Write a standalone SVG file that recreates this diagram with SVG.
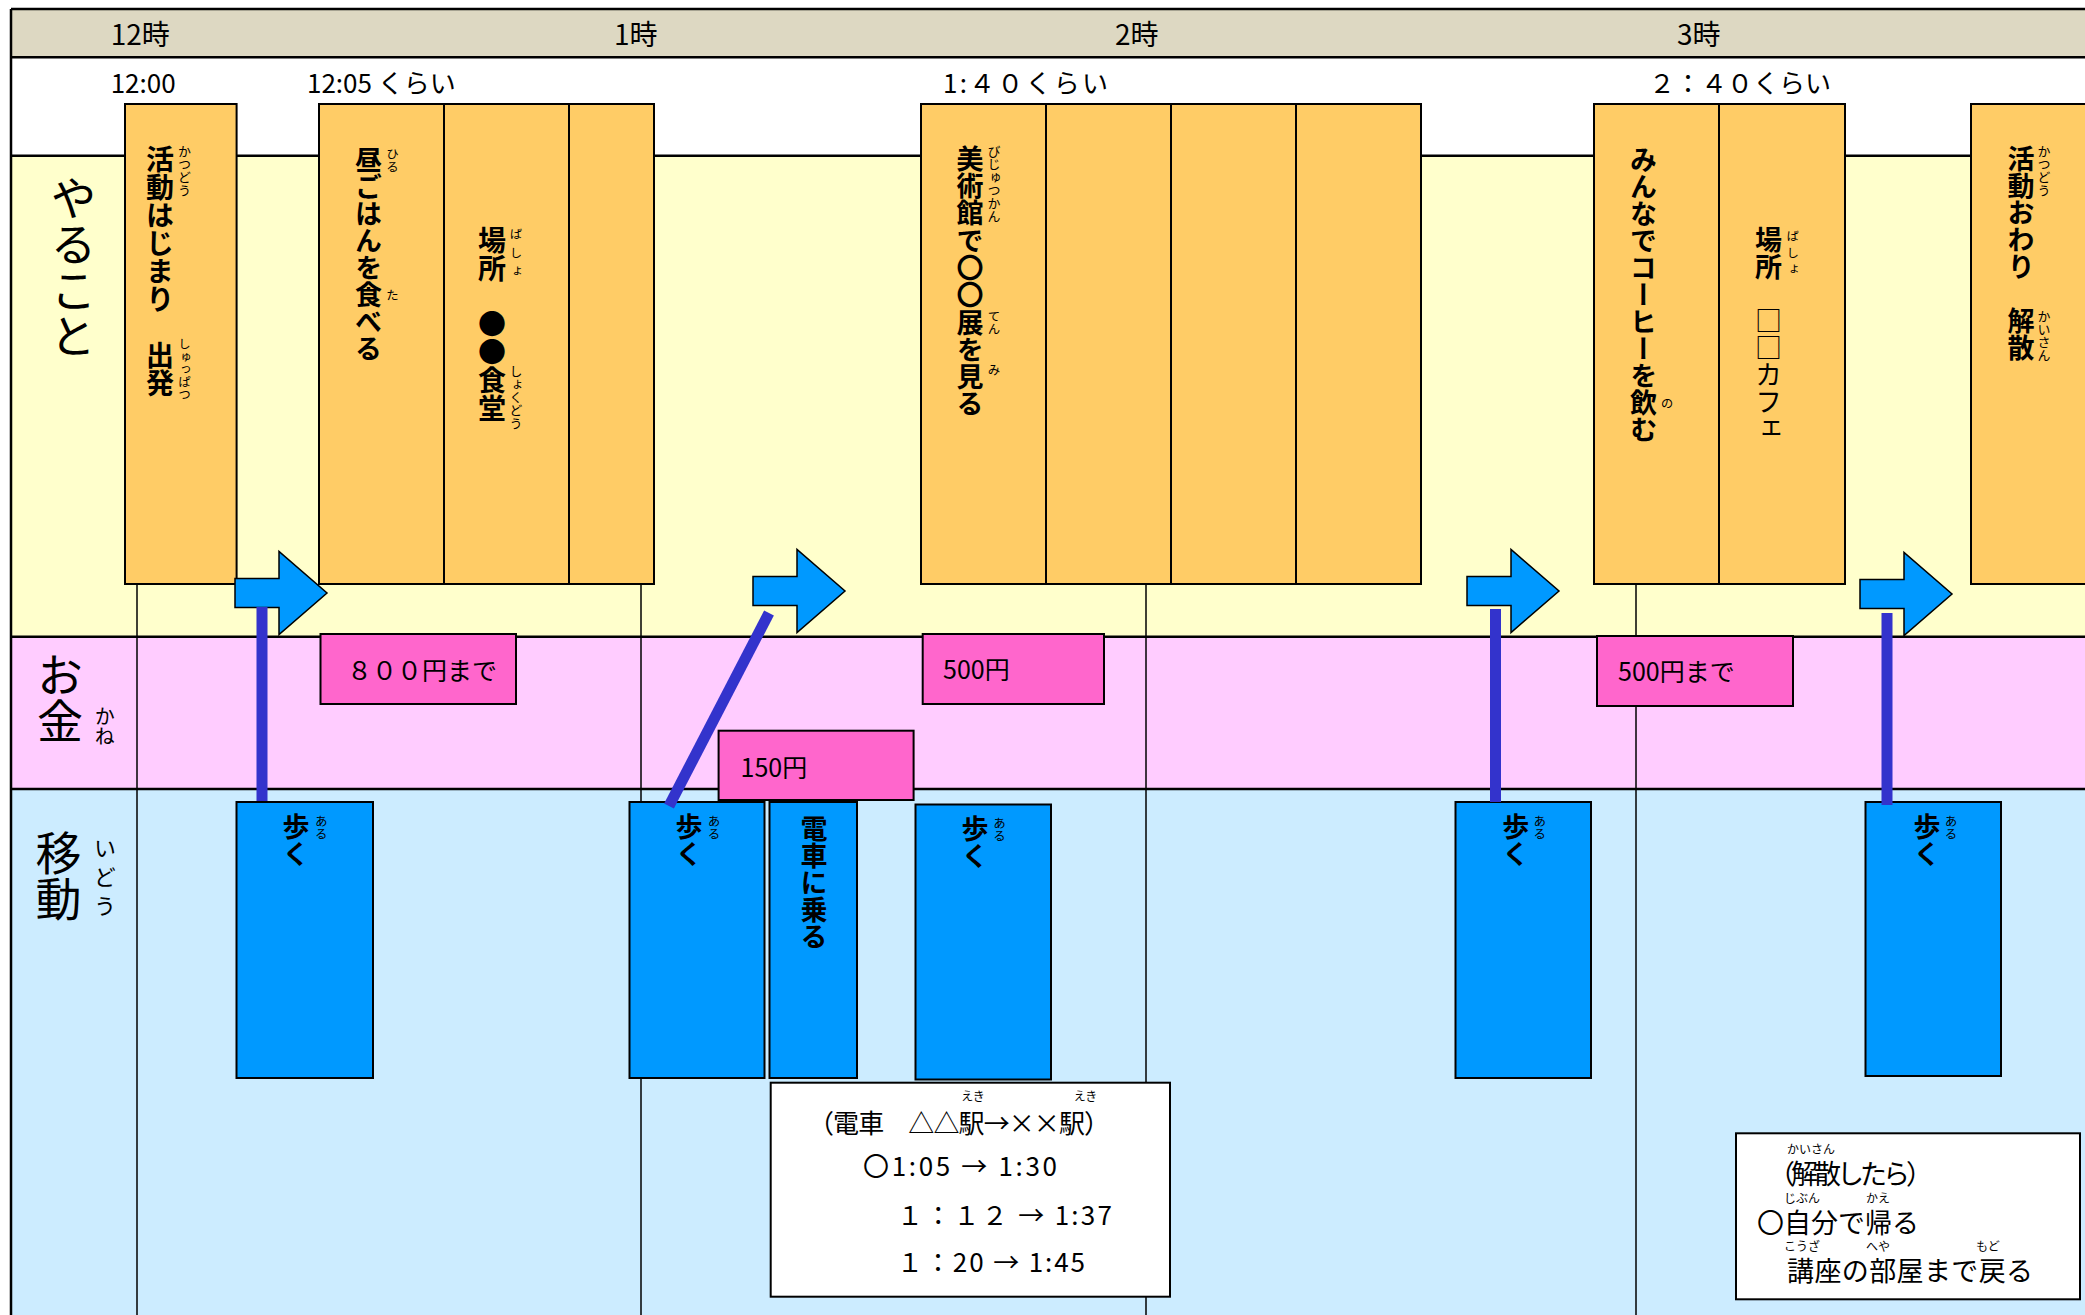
<svg xmlns="http://www.w3.org/2000/svg" width="2085" height="1315" viewBox="0 0 2085 1315">
<style>
.jp{font-family:"Noto Sans CJK JP","Noto Sans CJK SC",sans-serif;fill:#000;}
.vt{writing-mode:vertical-rl;font-family:"Noto Sans CJK JP","Noto Sans CJK SC",sans-serif;fill:#000;}
.big{font-size:46px;font-weight:400;}
.lbl{font-size:27px;font-weight:700;}
.rb{font-size:12.5px;font-weight:400;}
.hd{font-size:28px;}
.tm{font-size:26px;}
.money{font-size:25px;}
.info{font-size:26px;}
.ob{fill:#FFCC66;stroke:#000;stroke-width:2;}
.pb{fill:#FF66CC;stroke:#000;stroke-width:2;}
.bb{fill:#0099FF;stroke:#000;stroke-width:2;}
.wb{fill:#FFFFFF;stroke:#000;stroke-width:2;}
.row{stroke:#000;stroke-width:2.5;fill:none;}
.grid{stroke:#000;stroke-width:1.5;fill:none;}
.link{stroke:#3333CC;stroke-width:11;fill:none;}
</style>
<defs>
<path id="arr" d="M0,-14.5 H44 V-41.5 L92,0 L44,41.5 V14.5 H0 Z" fill="#0099FF" stroke="#000" stroke-width="1.5"/>
</defs>

<g id="table">
<rect x="11" y="9" width="2080" height="48.3" fill="#DDD8C2"/>
<rect x="11" y="57.3" width="2080" height="98.4" fill="#FFFFFF"/>
<rect x="11" y="155.7" width="2080" height="481" fill="#FFFFCC"/>
<rect x="11" y="636.7" width="2080" height="152.3" fill="#FFCCFF"/>
<rect x="11" y="789" width="2080" height="530" fill="#CCECFF"/>
<line class="grid" x1="137" y1="156" x2="137" y2="1315"/>
<line class="grid" x1="641" y1="156" x2="641" y2="1315"/>
<line class="grid" x1="1146" y1="156" x2="1146" y2="1315"/>
<line class="grid" x1="1636" y1="156" x2="1636" y2="1315"/>
<line class="row" x1="11" y1="9" x2="2085" y2="9"/>
<line class="row" x1="11" y1="9" x2="11" y2="1315"/>
<line class="row" x1="11" y1="57.3" x2="2085" y2="57.3"/>
<line class="row" x1="11" y1="155.7" x2="2085" y2="155.7"/>
<line class="row" x1="11" y1="636.7" x2="2085" y2="636.7"/>
<line class="row" x1="11" y1="789" x2="2085" y2="789"/>
<text class="jp hd" x="110.7" y="45">12時</text>
<text class="jp hd" x="614" y="45">1時</text>
<text class="jp hd" x="1115" y="45">2時</text>
<text class="jp hd" x="1677" y="45">3時</text>
<text class="jp tm" x="110.7" y="93">12:00</text>
<text class="jp tm" x="307" y="93">12:05 くらい</text>
<text class="jp tm" x="943" y="93" textLength="165">1:４０くらい</text>
<text class="jp tm" x="1649" y="93">２：４０くらい</text>
<text class="vt big" x="73.5" y="175">やること</text>
<text class="vt big" x="60" y="652">お金</text>
<text class="vt" x="104.7" y="706" style="font-size:20px">かね</text>
<text class="vt big" x="58.6" y="830">移動</text>
<text class="vt" x="105" y="837" style="font-size:22px;letter-spacing:7px">いどう</text>
</g>

<g id="start">
<rect class="ob" x="125" y="104" width="111.6" height="480"/>
<text class="vt lbl" x="160" y="145" style="font-size:28px">活動はじまり　出発</text>
<text class="vt rb" x="184.5" y="145" style="font-size:13px">かつどう</text>
<text class="vt rb" x="184.5" y="338">しゅっぱつ</text>
</g>

<g id="lunch">
<rect class="ob" x="319" y="104" width="125" height="480"/>
<rect class="ob" x="444" y="104" width="125" height="480"/>
<rect class="ob" x="569" y="104" width="85" height="480"/>
<text class="vt lbl" x="368.6" y="146.7">昼ごはんを食べる</text>
<text class="vt rb" x="392.5" y="148">ひる</text>
<text class="vt rb" x="392.5" y="289">た</text>
<text class="vt lbl" x="492" y="226.7" style="font-size:28px">場所　●●食堂</text>
<text class="vt rb" x="516" y="228" style="letter-spacing:6px">ばしょ</text>
<text class="vt rb" x="516" y="365" style="font-size:13px">しょくどう</text>
</g>

<g id="museum">
<rect class="ob" x="921" y="104" width="125" height="480"/>
<rect class="ob" x="1046" y="104" width="125" height="480"/>
<rect class="ob" x="1171" y="104" width="125" height="480"/>
<rect class="ob" x="1296" y="104" width="125" height="480"/>
<text class="vt lbl" x="970" y="145" style="letter-spacing:0.3px">美術館で〇〇展を見る</text>
<text class="vt rb" x="994" y="145" style="font-size:13px">びじゅつかん</text>
<text class="vt rb" x="994" y="310">てん</text>
<text class="vt rb" x="994" y="364">み</text>
</g>

<g id="coffee">
<rect class="ob" x="1594" y="104" width="125" height="480"/>
<rect class="ob" x="1719" y="104" width="126" height="480"/>
<text class="vt lbl" x="1643.6" y="146.7">みんなでコーヒーを飲む</text>
<text class="vt rb" x="1667" y="397">の</text>
<text class="vt lbl" x="1768.5" y="226.7">場所　<tspan style="font-weight:400">□□カフェ</tspan></text>
<text class="vt rb" x="1792.7" y="230" style="letter-spacing:4px">ばしょ</text>
</g>

<g id="end">
<rect class="ob" x="1971" y="104" width="130" height="480"/>
<text class="vt lbl" x="2021" y="145">活動おわり　解散</text>
<text class="vt rb" x="2044" y="145" style="font-size:13px">かつどう</text>
<text class="vt rb" x="2044" y="310" style="font-size:13px">かいさん</text>
</g>

<g id="money1">
<rect class="pb" x="320.5" y="634" width="195.5" height="70"/>
<text class="jp money" x="347" y="680">８００円まで</text>
</g>
<g id="money2">
<rect class="pb" x="718.6" y="730.7" width="195" height="69.3"/>
<text class="jp money" x="740.5" y="777">150円</text>
</g>
<g id="money3">
<rect class="pb" x="922.7" y="634" width="181.3" height="70"/>
<text class="jp money" x="943" y="679">500円</text>
</g>
<g id="money4">
<rect class="pb" x="1597" y="636" width="196" height="70"/>
<text class="jp money" x="1618" y="681">500円まで</text>
</g>

<g id="walk1">
<rect class="bb" x="236.5" y="802" width="136.5" height="276"/>
<text class="vt lbl" x="296" y="813">歩く</text>
<text class="vt rb" x="321.3" y="815">ある</text>
</g>
<g id="walk2">
<rect class="bb" x="629.5" y="802" width="135" height="276"/>
<text class="vt lbl" x="689" y="813">歩く</text>
<text class="vt rb" x="714" y="815">ある</text>
</g>
<g id="train">
<rect class="bb" x="769.5" y="802" width="87.5" height="276"/>
<text class="vt lbl" x="814" y="815">電車に乗る</text>
</g>
<g id="walk3">
<rect class="bb" x="915.5" y="804.5" width="135.5" height="275"/>
<text class="vt lbl" x="975" y="815">歩く</text>
<text class="vt rb" x="999.6" y="817">ある</text>
</g>
<g id="walk4">
<rect class="bb" x="1455.5" y="802" width="135.5" height="276"/>
<text class="vt lbl" x="1515.7" y="813">歩く</text>
<text class="vt rb" x="1539.7" y="815">ある</text>
</g>
<g id="walk5">
<rect class="bb" x="1865.5" y="802" width="135.5" height="274"/>
<text class="vt lbl" x="1927" y="813">歩く</text>
<text class="vt rb" x="1951" y="815">ある</text>
</g>

<g id="trainInfo">
<rect class="wb" x="770.7" y="1082.7" width="399.3" height="214"/>
<text class="jp info" x="808" y="1132.5" textLength="302">（電車　△△駅→××駅）</text>
<text class="jp" x="973" y="1101" text-anchor="middle" style="font-size:12px">えき</text>
<text class="jp" x="1085.5" y="1101" text-anchor="middle" style="font-size:12px">えき</text>
<text class="jp info" x="863" y="1176" textLength="194">〇1:05 → 1:30</text>
<text class="jp info" x="897" y="1225" textLength="215">１：１２ → 1:37</text>
<text class="jp info" x="897" y="1272" textLength="188">１：20 → 1:45</text>
</g>

<g id="afterInfo">
<rect class="wb" x="1736" y="1133.3" width="344" height="166"/>
<text class="jp" x="1768" y="1184" style="font-size:27px" textLength="165">（解散したら）</text>
<text class="jp" x="1811" y="1154" text-anchor="middle" style="font-size:12px">かいさん</text>
<text class="jp" x="1757" y="1232.5" style="font-size:27px">〇自分で帰る</text>
<text class="jp" x="1802" y="1202.5" text-anchor="middle" style="font-size:12px">じぶん</text>
<text class="jp" x="1878" y="1202.5" text-anchor="middle" style="font-size:12px">かえ</text>
<text class="jp" x="1787" y="1280.5" style="font-size:27px" textLength="246">講座の部屋まで戻る</text>
<text class="jp" x="1802" y="1250.5" text-anchor="middle" style="font-size:12px">こうざ</text>
<text class="jp" x="1878" y="1250.5" text-anchor="middle" style="font-size:12px">へや</text>
<text class="jp" x="1988" y="1250.5" text-anchor="middle" style="font-size:12px">もど</text>
</g>

<g id="connectors">
<use href="#arr" x="235" y="593"/>
<use href="#arr" x="753" y="591"/>
<use href="#arr" x="1467" y="591"/>
<use href="#arr" x="1860" y="594"/>
<line class="link" x1="262" y1="607" x2="262" y2="801"/>
<line class="link" x1="769" y1="613" x2="669" y2="806"/>
<line class="link" x1="1495.5" y1="609" x2="1495.5" y2="802"/>
<line class="link" x1="1887" y1="613" x2="1887" y2="805"/>
</g>
</svg>
